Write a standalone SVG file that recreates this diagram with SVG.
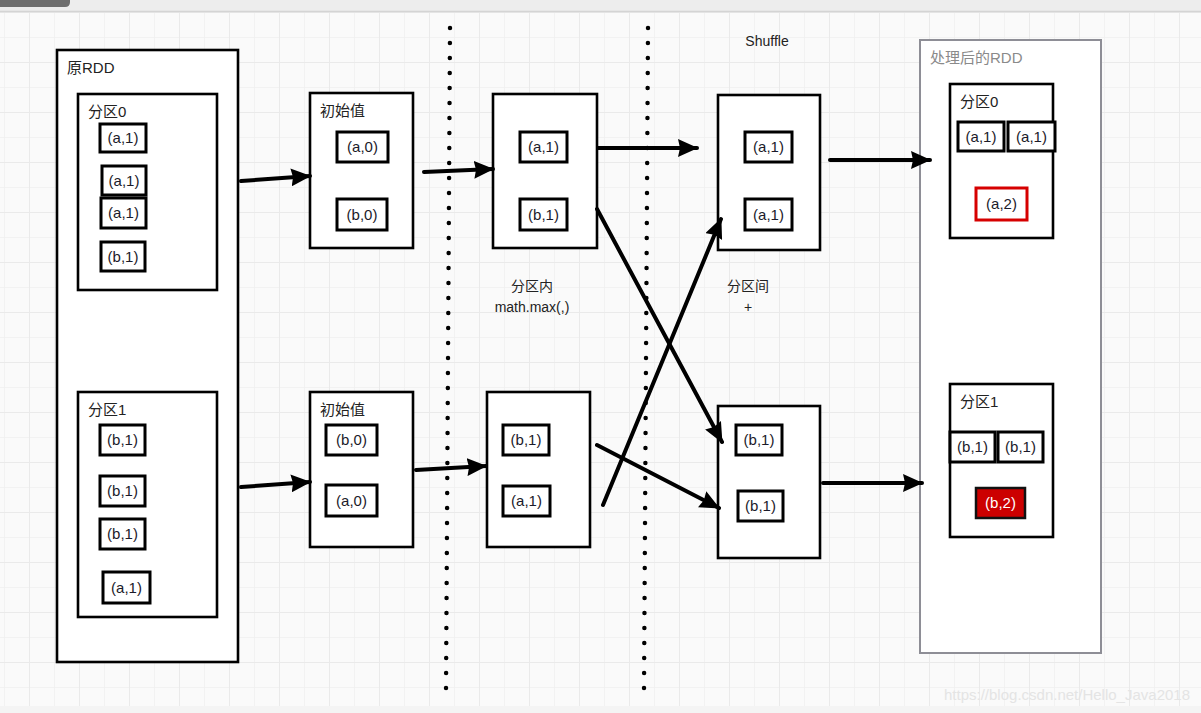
<svg xmlns="http://www.w3.org/2000/svg" width="1201" height="713" viewBox="0 0 1201 713">
<defs>
<pattern id="gminor" width="25" height="25" patternUnits="userSpaceOnUse" x="4" y="12">
<path d="M0 0 H25 M0 0 V25" fill="none" stroke="#f0f0f0" stroke-width="1.5"/>
</pattern>
<pattern id="gmajor" width="50" height="50" patternUnits="userSpaceOnUse" x="29" y="12">
<path d="M0 0 H50 M0 0 V50" fill="none" stroke="#eaeaea" stroke-width="2"/>
</pattern>
<marker id="ah" viewBox="0 0 20 18" refX="19" refY="9" markerWidth="20" markerHeight="18" markerUnits="userSpaceOnUse" orient="auto">
<path d="M0 0 L20 9 L0 18 L2 9 Z" fill="#000"/>
</marker>
<style>
.box{fill:#fff;stroke:#000;stroke-width:2.6}
.item{fill:#fff;stroke:#000;stroke-width:3}
.lbl{font-family:"Liberation Sans","Noto Sans CJK SC",sans-serif;font-size:15px;fill:#222}
.it{font-family:"Liberation Sans","Noto Sans CJK SC",sans-serif;font-size:15px;fill:#1b1b2a;text-anchor:middle}
.mid{text-anchor:middle}
.conn{stroke:#000;stroke-width:4;fill:none;stroke-linecap:round;marker-end:url(#ah)}
.dots{stroke:#000;stroke-width:4.5;stroke-linecap:round;stroke-dasharray:0 15;fill:none}
</style>
</defs>
<rect width="1201" height="713" fill="#fafafa"/>
<rect width="1201" height="713" fill="url(#gminor)"/>
<rect width="1201" height="713" fill="url(#gmajor)"/>
<rect x="0" y="0" width="1201" height="11" fill="#ededed"/>
<line x1="0" y1="11.5" x2="1201" y2="11.5" stroke="#d4d4d4" stroke-width="1.5"/>
<path d="M0 0 H70 V2 Q70 7 65 7 H0 Z" fill="#6e6e6e"/>
<rect x="0" y="706" width="1201" height="7" fill="#f4f4f4"/>

<g id="separators">
<line class="dots" x1="450" y1="28" x2="446" y2="690"/>
<line class="dots" x1="648" y1="28" x2="644" y2="690"/>
</g>

<g id="orig-rdd">
<rect class="box" x="57" y="50" width="181" height="612"/>
<text class="lbl" x="67" y="73">原RDD</text>
</g>
<g id="orig-p0">
<rect class="box" x="78" y="94" width="139" height="196"/>
<text class="lbl" x="88" y="117">分区0</text>
<rect class="item" x="100" y="124" width="46" height="28"/><text class="it" x="123" y="143">(a,1)</text>
<rect class="item" x="102" y="166" width="44" height="29"/><text class="it" x="124" y="186">(a,1)</text>
<rect class="item" x="101" y="198" width="45" height="30"/><text class="it" x="123.5" y="218">(a,1)</text>
<rect class="item" x="101" y="242" width="44" height="29"/><text class="it" x="123" y="262">(b,1)</text>
</g>
<g id="orig-p1">
<rect class="box" x="78" y="392" width="139" height="225"/>
<text class="lbl" x="88" y="415">分区1</text>
<rect class="item" x="100" y="425" width="45" height="30"/><text class="it" x="122.5" y="445">(b,1)</text>
<rect class="item" x="100" y="476" width="45" height="30"/><text class="it" x="122.5" y="496">(b,1)</text>
<rect class="item" x="100" y="519" width="45" height="30"/><text class="it" x="122.5" y="539">(b,1)</text>
<rect class="item" x="103" y="572" width="47" height="31"/><text class="it" x="126.5" y="593">(a,1)</text>
</g>

<g id="init-0">
<rect class="box" x="310" y="93" width="103" height="155"/>
<text class="lbl" x="320" y="116">初始值</text>
<rect class="item" x="337" y="132" width="51" height="30"/><text class="it" x="362.5" y="152">(a,0)</text>
<rect class="item" x="337" y="199" width="50" height="31"/><text class="it" x="362" y="220">(b,0)</text>
</g>
<g id="init-1">
<rect class="box" x="310" y="392" width="103" height="155"/>
<text class="lbl" x="320" y="415">初始值</text>
<rect class="item" x="326" y="425" width="51" height="30"/><text class="it" x="351.5" y="445">(b,0)</text>
<rect class="item" x="326" y="485" width="51" height="31"/><text class="it" x="351.5" y="506">(a,0)</text>
</g>

<g id="agg-0">
<rect class="box" x="493" y="94" width="104" height="154"/>
<rect class="item" x="520" y="132" width="47" height="30"/><text class="it" x="543.5" y="152">(a,1)</text>
<rect class="item" x="520" y="199" width="47" height="31"/><text class="it" x="543.5" y="220">(b,1)</text>
</g>
<g id="agg-1">
<rect class="box" x="487" y="392" width="103" height="155"/>
<rect class="item" x="503" y="425" width="46" height="30"/><text class="it" x="526" y="445">(b,1)</text>
<rect class="item" x="503" y="486" width="47" height="30"/><text class="it" x="526.5" y="506">(a,1)</text>
</g>

<g id="shuf-0">
<rect class="box" x="718" y="95" width="102" height="155"/>
<rect class="item" x="745" y="132" width="47" height="30"/><text class="it" x="768.5" y="152">(a,1)</text>
<rect class="item" x="745" y="199" width="47" height="31"/><text class="it" x="768.5" y="220">(a,1)</text>
</g>
<g id="shuf-1">
<rect class="box" x="718" y="406" width="102" height="152"/>
<rect class="item" x="736" y="425" width="46" height="30"/><text class="it" x="759" y="445">(b,1)</text>
<rect class="item" x="738" y="491" width="45" height="30"/><text class="it" x="760.5" y="511">(b,1)</text>
</g>

<g id="result-rdd">
<rect x="920" y="40" width="181" height="613" fill="#fff" stroke="#8e8e96" stroke-width="2"/>
<text class="lbl" x="930" y="63" style="fill:#8a8a8a">处理后的RDD</text>
</g>
<g id="result-p0">
<rect class="box" x="950" y="84" width="103" height="154"/>
<text class="lbl" x="960" y="107">分区0</text>
<rect class="item" x="958" y="122" width="46" height="29"/><text class="it" x="981" y="142">(a,1)</text>
<rect class="item" x="1008" y="122" width="47" height="29"/><text class="it" x="1031.5" y="142">(a,1)</text>
<rect x="976" y="188" width="51" height="32" fill="#fff" stroke="#d60000" stroke-width="3"/><text class="it" x="1001.5" y="209">(a,2)</text>
</g>
<g id="result-p1">
<rect class="box" x="950" y="384" width="103" height="153"/>
<text class="lbl" x="960" y="407">分区1</text>
<rect class="item" x="950" y="432" width="45" height="30"/><text class="it" x="972.5" y="452">(b,1)</text>
<rect class="item" x="998" y="432" width="45" height="30"/><text class="it" x="1020.5" y="452">(b,1)</text>
<rect x="976" y="488" width="49" height="30" fill="#cc0000" stroke="#111" stroke-width="2.5"/><text class="it" x="1000.5" y="508" style="fill:#fff">(b,2)</text>
</g>

<g id="labels">
<text class="lbl mid" x="767" y="46" style="font-size:14px">Shuffle</text>
<text class="lbl mid" x="532" y="291" style="font-size:14px">分区内</text>
<text class="lbl mid" x="532" y="312" style="font-size:14px">math.max(,)</text>
<text class="lbl mid" x="748" y="291" style="font-size:14px">分区间</text>
<text class="lbl mid" x="748" y="312" style="font-size:14px">+</text>
</g>

<g id="connectors">
<line class="conn" x1="241" y1="181" x2="310" y2="176"/>
<line class="conn" x1="241" y1="487" x2="310" y2="482"/>
<line class="conn" x1="424" y1="172" x2="493" y2="169"/>
<line class="conn" x1="416" y1="470" x2="486" y2="466"/>
<line class="conn" x1="598" y1="148" x2="697" y2="148"/>
<line class="conn" x1="597" y1="209" x2="722" y2="442"/>
<line class="conn" x1="603" y1="505" x2="721" y2="219"/>
<line class="conn" x1="597" y1="445" x2="719" y2="508"/>
<line class="conn" x1="830" y1="160" x2="930" y2="160"/>
<line class="conn" x1="823" y1="483" x2="922" y2="483"/>
</g>

<text x="1190" y="700" text-anchor="end" style="font-family:'Liberation Sans',sans-serif;font-size:15px;fill:#e4e4e4">https://blog.csdn.net/Hello_Java2018</text>
</svg>
